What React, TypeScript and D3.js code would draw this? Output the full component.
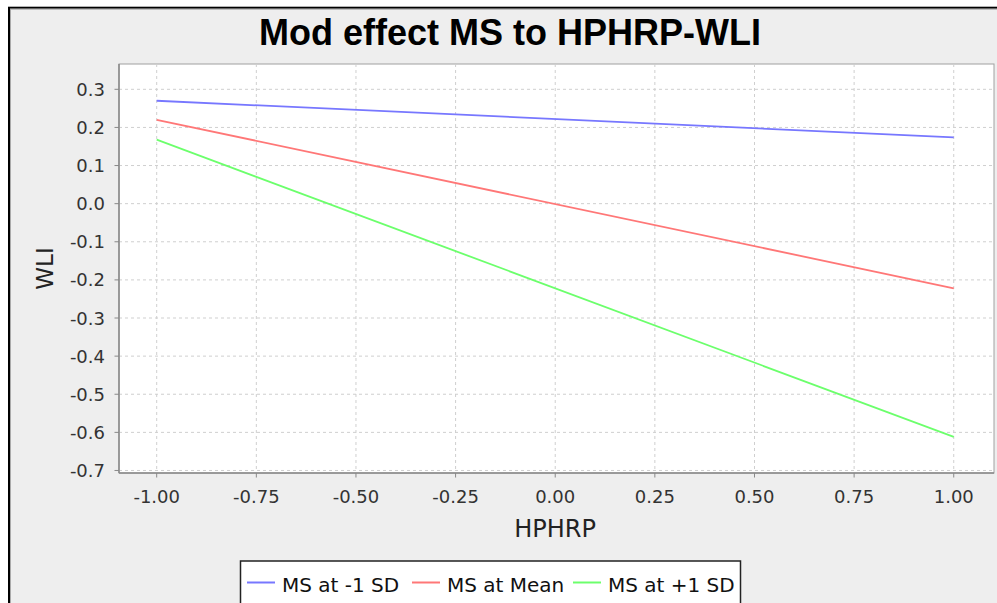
import React from "react";
import * as d3 from "d3";

const xValues = [-1, 1];
const seriesNames = ["MS at -1 SD", "MS at Mean", "MS at +1 SD"];
const lowSD = [0.27, 0.174];
const meanVals = [0.22, -0.222];
const highSD = [0.168, -0.612];
const seriesColors = ["#7777ff", "#ff7777", "#6cff6c"];
const xTicks = [-1, -0.75, -0.5, -0.25, 0, 0.25, 0.5, 0.75, 1];
const yTicks = [0.3, 0.2, 0.1, 0, -0.1, -0.2, -0.3, -0.4, -0.5, -0.6, -0.7];

const FONT = "'DejaVu Sans', Verdana, sans-serif";

export default function App() {
  const left = 119, right = 994, top = 64, bottom = 473;
  const x = d3.scaleLinear().domain([-1.0946, 1.101]).range([left, right]);
  const y = d3.scaleLinear().domain([-0.7066, 0.3664]).range([bottom, top]);
  const line = d3
    .line<number>()
    .x((_, i) => x(xValues[i]))
    .y((d) => y(d));
  const series = [lowSD, meanVals, highSD];

  const legendItems = [
    { lx: 247, tx: 282 },
    { lx: 412, tx: 447 },
    { lx: 573, tx: 608 },
  ];

  return (
    <svg
      width={997}
      height={603}
      style={{ position: "absolute", left: 0, top: 0, display: "block" }}
    >
      <rect x={0} y={0} width={997} height={603} fill="#ffffff" />
      <rect x={9} y={7.7} width={1000} height={620} fill="#eeeeee" stroke="#000" strokeWidth={2} />
      <rect x={10.5} y={9.2} width={1000} height={620} fill="none" stroke="#aaaaaa" strokeWidth={1} />

      <text
        x={510}
        y={45}
        textAnchor="middle"
        fontFamily="'Liberation Sans', Arial, sans-serif"
        fontWeight="bold"
        fontSize={36}
        fill="#000"
      >
        Mod effect MS to HPHRP-WLI
      </text>

      <rect x={left} y={top} width={right - left} height={bottom - top} fill="#fff" stroke="#a0a0a0" strokeWidth={1} />

      {xTicks.map((t) => (
        <line key={"gx" + t} x1={x(t)} x2={x(t)} y1={top} y2={bottom} stroke="#cfcfcf" strokeWidth={1} strokeDasharray="3,3" />
      ))}
      {yTicks.map((t) => (
        <line key={"gy" + t} x1={left} x2={right} y1={y(t)} y2={y(t)} stroke="#cfcfcf" strokeWidth={1} strokeDasharray="3,3" />
      ))}

      <line x1={left} x2={left} y1={top} y2={bottom} stroke="#888" strokeWidth={1.5} />
      <line x1={left} x2={right} y1={bottom} y2={bottom} stroke="#888" strokeWidth={1.5} />

      {series.map((s, i) => (
        <path key={seriesNames[i]} d={line(s) || ""} fill="none" stroke={seriesColors[i]} strokeWidth={1.8} />
      ))}

      {yTicks.map((t) => (
        <g key={"ty" + t}>
          <line x1={left - 4.5} x2={left} y1={y(t)} y2={y(t)} stroke="#888" strokeWidth={1} />
          <text x={105} y={y(t) + 6.5} textAnchor="end" fontFamily={FONT} fontSize={18} fill="#333">
            {t.toFixed(1)}
          </text>
        </g>
      ))}
      {xTicks.map((t) => (
        <g key={"tx" + t}>
          <line x1={x(t)} x2={x(t)} y1={bottom} y2={bottom + 4.5} stroke="#888" strokeWidth={1} />
          <text x={x(t)} y={502.5} textAnchor="middle" fontFamily={FONT} fontSize={18} fill="#333">
            {t.toFixed(2)}
          </text>
        </g>
      ))}

      <text x={555} y={537} textAnchor="middle" fontFamily={FONT} fontSize={24} fill="#222">
        HPHRP
      </text>
      <text
        transform={`translate(53, ${(top + bottom) / 2}) rotate(-90)`}
        textAnchor="middle"
        fontFamily={FONT}
        fontSize={23}
        fill="#222"
      >
        WLI
      </text>

      <rect x={240.5} y={561} width={500} height={60} fill="#fff" stroke="#222" strokeWidth={1.5} />
      {legendItems.map((it, i) => (
        <g key={"lg" + i}>
          <line x1={it.lx} x2={it.lx + 28} y1={582.5} y2={582.5} stroke={seriesColors[i]} strokeWidth={2} />
          <text x={it.tx} y={592} fontFamily={FONT} fontSize={20} fill="#111">
            {seriesNames[i]}
          </text>
        </g>
      ))}
    </svg>
  );
}
